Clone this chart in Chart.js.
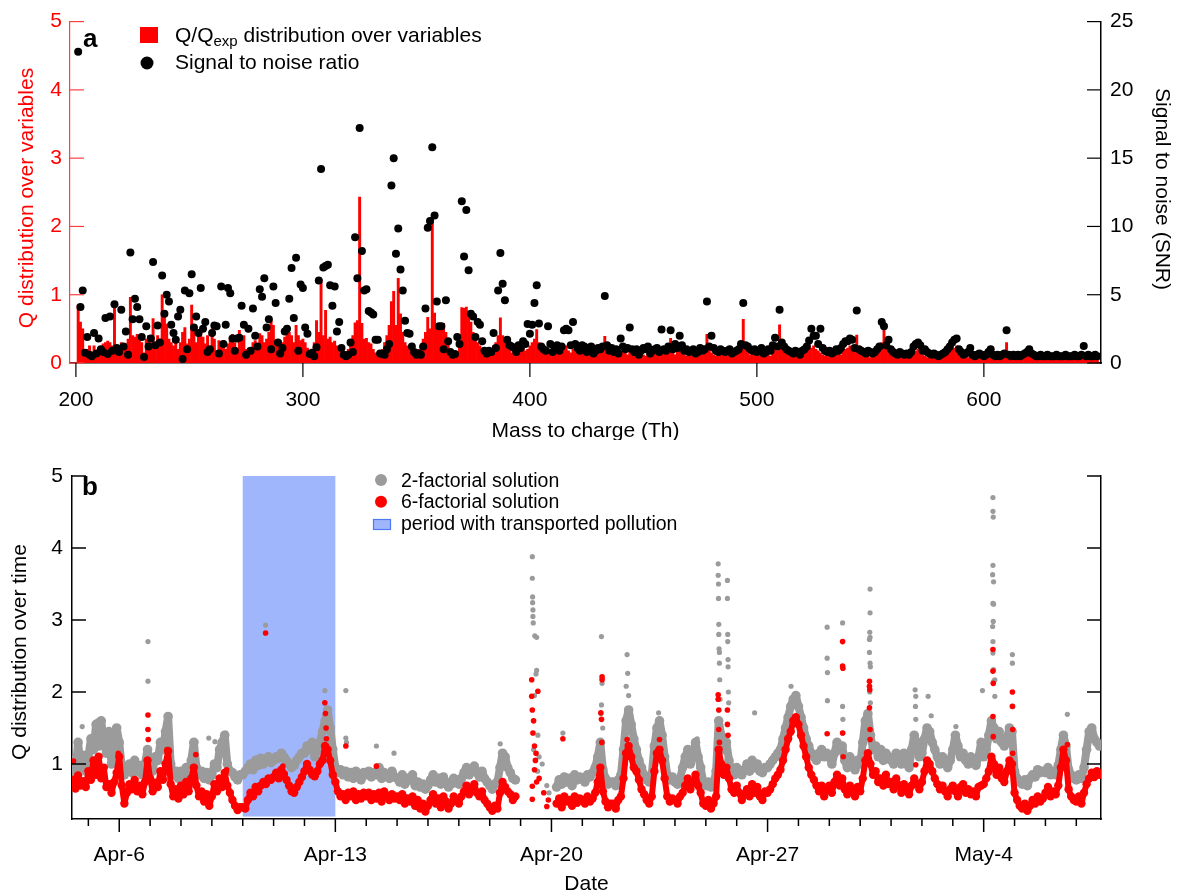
<!DOCTYPE html>
<html>
<head>
<meta charset="utf-8">
<script src="https://cdn.jsdelivr.net/npm/chart.js@4.4.1/dist/chart.umd.min.js"></script>
<style>
body{margin:0;background:#fff;}
#wrap{position:relative;width:1181px;height:896px;}
canvas{position:absolute;left:0;}
#chartA{top:0;}
#chartB{top:440px;}
</style>
</head>
<body>
<div id="wrap">
<canvas id="chartA" width="1181" height="440"></canvas>
<canvas id="chartB" width="1181" height="456"></canvas>
</div>
<script>
const RED='#ff0000';
const RED_AXIS='#ff4040';
const GRAY='#9b9b9b';
const BLUE_FILL='rgb(160,182,252)';
const BLUE_EDGE='rgb(80,120,240)';
const FONT="'Liberation Sans', Arial, Helvetica, sans-serif";

// ---- panel a: one value per nominal mass, starting at m/z 201
const mzStart=201;
const qDist=[
0.85,0.6,0.5,0.15,0.2,0.25,0.12,0.25,0.18,0.22,
0.2,0.28,0.3,0.32,0.3,0.25,0.85,0.15,0.2,0.3,
0.25,0.28,0.35,0.96,0.4,0.38,0.42,0.4,0.3,0.15,
0.35,0.4,0.3,0.65,0.25,0.4,0.35,1.0,0.72,0.57,
0.35,0.3,0.25,0.38,0.2,0.3,0.45,0.52,0.28,0.35,
0.85,0.54,0.3,0.45,0.45,0.38,0.28,0.4,0.2,0.5,
0.35,0.18,0.33,0.3,0.33,0.2,0.28,0.38,0.42,0.3,
0.2,0.48,0.35,0.4,0.2,0.22,0.18,0.3,0.33,0.25,
0.43,0.4,0.3,0.35,0.45,0.62,0.55,0.3,0.25,0.33,
0.3,0.38,0.5,0.45,0.4,0.3,0.55,0.4,0.33,0.35,
0.3,0.22,0.12,0.15,0.3,0.62,0.45,1.22,0.4,0.77,
0.35,0.38,0.3,0.32,0.25,0.2,0.15,0.12,0.15,0.2,
0.3,0.4,0.59,0.62,2.43,0.58,0.35,0.36,0.3,0.28,
0.2,0.15,0.12,0.15,0.2,0.3,0.4,0.55,0.9,1.05,
0.55,1.24,0.72,0.45,0.3,0.25,0.2,0.15,0.12,0.15,
0.2,0.25,0.35,0.45,0.67,0.5,2.12,0.73,0.55,0.58,
0.5,0.58,0.45,0.3,0.2,0.15,0.12,0.15,0.25,0.81,
0.8,0.82,0.75,0.6,0.45,0.35,0.3,0.25,0.2,0.15,
0.12,0.15,0.18,0.25,0.3,0.4,0.66,0.4,0.3,0.25,
0.2,0.15,0.2,0.18,0.15,0.2,0.22,0.18,0.2,0.25,
0.3,0.35,0.49,0.3,0.2,0.15,0.18,0.22,0.15,0.12,
0.15,0.18,0.2,0.22,0.2,0.25,0.18,0.15,0.2,0.22,
0.18,0.15,0.2,0.12,0.15,0.18,0.2,0.15,0.12,0.18,
0.2,0.25,0.39,0.18,0.15,0.12,0.15,0.18,0.12,0.15,
0.18,0.15,0.12,0.2,0.15,0.12,0.1,0.12,0.15,0.12,
0.1,0.15,0.12,0.18,0.15,0.12,0.15,0.2,0.18,0.15,
0.2,0.36,0.15,0.12,0.2,0.18,0.15,0.12,0.1,0.12,
0.15,0.12,0.1,0.12,0.15,0.12,0.18,0.42,0.2,0.15,
0.12,0.1,0.12,0.15,0.12,0.1,0.12,0.15,0.12,0.1,
0.12,0.15,0.2,0.64,0.2,0.15,0.12,0.15,0.12,0.1,
0.12,0.1,0.12,0.15,0.12,0.1,0.15,0.2,0.18,0.56,
0.25,0.18,0.15,0.12,0.1,0.12,0.1,0.12,0.1,0.12,
0.15,0.2,0.28,0.22,0.25,0.2,0.18,0.15,0.12,0.1,
0.12,0.1,0.12,0.1,0.12,0.15,0.12,0.18,0.2,0.22,
0.25,0.22,0.2,0.41,0.15,0.12,0.1,0.12,0.1,0.08,
0.1,0.12,0.15,0.2,0.3,0.48,0.25,0.2,0.12,0.1,
0.08,0.1,0.08,0.1,0.08,0.1,0.08,0.1,0.15,0.18,
0.2,0.15,0.12,0.1,0.08,0.1,0.08,0.1,0.08,0.07,
0.08,0.1,0.12,0.15,0.18,0.2,0.22,0.25,0.15,0.1,
0.08,0.1,0.08,0.1,0.07,0.08,0.07,0.08,0.07,0.06,
0.07,0.08,0.1,0.07,0.06,0.07,0.06,0.07,0.08,0.3,
0.1,0.08,0.07,0.06,0.07,0.06,0.07,0.08,0.1,0.12,
0.08,0.07,0.06,0.06,0.07,0.06,0.06,0.07,0.06,0.06,
0.06,0.07,0.06,0.06,0.06,0.07,0.06,0.06,0.06,0.07,
0.06,0.06,0.07,0.13,0.08,0.07,0.06,0.06,0.07,0.06
];
const snr=[
22.8,4.1,5.3,0.75,1.9,0.6,0.5,2.2,0.7,1.8,
1.0,0.8,3.3,0.65,3.4,0.9,4.3,1.1,0.8,3.9,
1.2,2.3,0.6,8.1,3.2,4.7,4.1,3.2,1.9,0.44,
2.7,1.2,1.8,7.4,1.3,2.75,1.5,6.4,3.6,5.0,
4.5,2.8,2.2,1.7,3.4,3.9,0.3,5.3,1.0,5.1,
6.5,2.6,3.4,2.2,5.5,2.5,3.0,0.8,1.0,2.2,
2.75,2.7,0.7,5.6,1.4,2.8,5.5,5.1,1.8,0.9,
1.8,1.85,4.2,2.8,0.6,2.5,0.9,4.0,2.0,1.2,
5.4,4.85,6.2,2.6,3.2,1.0,5.6,4.4,1.5,0.7,
1.1,2.3,2.5,4.7,6.95,3.3,7.7,0.9,5.75,5.5,
2.6,2.15,0.65,0.75,0.5,1.15,6.05,14.2,7.0,7.1,
7.2,5.7,4.2,5.6,2.3,3.0,1.1,0.6,0.5,0.6,
1.5,0.8,9.2,6.2,17.2,8.2,5.3,5.4,3.8,3.7,
3.55,1.7,1.7,0.7,0.65,0.6,1.0,1.4,13.0,15.0,
8.0,9.85,6.85,5.3,3.1,2.2,2.15,1.2,0.8,0.6,
0.7,0.6,1.2,4.0,9.9,10.4,15.8,10.8,4.5,2.7,
2.7,1.0,4.6,1.6,0.8,0.6,0.65,1.9,1.4,11.85,
7.8,11.2,6.8,3.6,3.4,1.9,3.0,2.8,1.6,0.9,
0.7,0.9,0.8,2.2,1.1,5.3,8.06,5.8,4.6,1.7,
1.3,1.2,1.1,0.8,1.3,1.1,1.6,1.4,2.85,2.15,
2.8,4.4,5.7,2.9,1.2,1.0,0.9,2.7,1.4,0.8,
1.1,1.3,0.9,1.2,2.4,2.5,2.4,1.3,3.0,1.4,
1.1,0.9,1.3,1.2,0.8,1.0,1.2,0.7,0.9,1.1,
1.0,1.2,4.9,1.3,0.9,1.1,0.8,1.0,0.7,1.8,
1.2,1.0,1.1,2.6,1.0,0.8,1.0,0.6,0.9,1.1,
1.0,1.2,0.7,0.9,1.0,1.1,0.8,2.45,1.0,0.9,
1.2,2.4,1.0,1.4,1.1,2.0,1.3,0.9,1.0,0.8,
0.9,1.0,0.7,0.8,1.1,0.9,1.0,4.5,1.2,2.0,
1.1,0.9,0.8,1.0,0.9,0.8,0.9,1.0,0.7,0.8,
0.9,1.0,1.4,4.4,1.3,1.2,1.0,0.9,1.0,0.8,
0.9,1.1,0.7,0.8,1.0,0.9,1.3,1.85,1.2,3.9,
1.5,1.2,1.0,0.9,0.8,0.7,0.9,0.8,0.6,0.9,
1.0,1.2,1.65,2.5,2.0,2.0,1.4,2.5,1.1,0.9,
0.8,0.9,0.7,0.8,1.0,0.9,1.1,1.4,1.6,1.6,
1.8,1.7,1.1,3.85,1.0,0.9,0.8,0.7,0.9,0.8,
0.7,0.8,1.0,1.2,3.0,2.7,1.3,1.7,1.0,0.8,
0.7,0.6,0.8,0.7,0.6,0.7,0.6,0.8,1.2,1.4,
1.5,1.3,0.9,1.0,0.8,0.7,0.6,0.7,0.6,0.5,
0.6,0.7,0.8,1.0,1.2,1.5,1.7,1.8,1.0,0.8,
0.6,0.7,0.8,1.1,0.6,0.5,0.6,0.7,0.6,0.5,
0.6,0.8,1.0,0.6,0.5,0.6,0.5,0.6,0.7,2.4,
0.6,0.5,0.6,0.5,0.6,0.5,0.6,0.7,0.8,1.0,
0.7,0.6,0.5,0.5,0.6,0.5,0.5,0.6,0.5,0.5,
0.5,0.6,0.5,0.5,0.5,0.6,0.5,0.5,0.5,0.6,
0.5,0.5,0.6,1.25,0.5,0.6,0.5,0.5,0.6,0.5
];
const mzTicks=[200,300,400,500,600];
const qTicks=[0,1,2,3,4,5];
const snrTicks=[0,5,10,15,20,25];

// ---- panel b: x in days counted from Mar 31 (so 6 = Apr 6, 34 = May 4)
const tStart=4.5;          // Apr 4, 12:00
const stepDays=2/24;       // 2-hourly values
const sol2=[
1.05,0.88,1.30,0.95,1.12,0.90,
1.10,1.35,1.20,1.55,1.25,1.60,1.30,1.15,1.45,1.00,1.20,1.50,
1.30,0.95,0.85,0.92,1.00,0.88,1.05,0.90,0.98,0.85,1.00,1.20,
1.00,0.90,1.10,1.05,1.30,1.20,1.45,1.66,1.00,0.85,0.90,0.80,
0.90,0.82,0.95,0.88,1.05,1.30,0.95,0.85,0.90,0.80,0.88,0.78,
0.85,1.00,0.95,1.20,1.30,1.40,1.00,0.90,0.88,0.82,0.78,0.85,
0.85,0.90,0.95,1.00,0.92,1.05,0.98,1.08,1.00,1.05,1.10,1.02,
1.05,1.10,1.08,1.15,1.10,1.05,1.00,0.95,0.98,1.05,1.10,1.15,
1.15,1.25,1.20,1.30,1.10,1.20,1.30,1.45,1.60,1.75,1.50,1.20,
0.95,0.88,0.92,0.85,0.90,0.82,0.88,0.80,0.90,0.85,0.78,0.88,
0.85,0.90,0.82,0.88,0.85,0.95,0.80,0.88,0.85,0.80,0.90,0.82,
0.80,0.75,0.85,0.72,0.80,0.78,0.85,0.70,0.75,0.68,0.72,0.65,
0.70,0.78,0.85,0.75,0.80,0.72,0.82,0.75,0.68,0.72,0.80,0.78,
0.72,0.80,0.88,0.95,0.85,0.90,0.97,0.88,0.82,0.90,0.80,0.75,
0.70,0.65,0.72,0.75,0.95,1.15,1.10,0.95,0.88,0.80,0.78,null,
null,null,null,null,null,null,null,null,null,null,null,null,
null,null,0.68,0.78,0.72,0.82,0.75,0.80,0.70,0.85,0.78,0.82,
0.80,0.75,0.85,0.82,0.88,0.95,1.10,1.30,0.92,0.80,0.72,0.75,
0.75,0.70,0.78,0.85,1.20,1.60,1.75,1.55,1.35,1.20,1.05,0.95,
0.85,0.78,0.75,0.85,1.25,1.50,1.60,1.40,1.10,0.85,0.78,0.82,
0.75,0.72,0.80,0.95,1.10,1.20,1.00,1.15,1.30,1.10,0.95,0.75,
0.70,0.75,0.68,0.72,0.90,1.60,1.40,1.20,1.30,1.05,0.90,0.85,
0.95,0.88,0.85,0.92,1.00,0.90,1.05,0.95,1.00,0.90,0.88,0.95,
0.95,1.00,1.05,1.10,1.15,1.20,1.35,1.50,1.65,1.80,1.90,1.95,
1.80,1.65,1.50,1.35,1.25,1.15,1.10,1.05,1.15,1.20,1.10,1.15,
1.10,1.00,1.15,1.30,1.20,1.25,1.05,0.95,1.10,1.00,0.92,1.05,
1.00,1.30,1.60,1.70,1.40,1.20,1.25,1.10,1.20,1.05,1.15,1.10,
1.05,1.00,1.15,1.10,1.00,1.15,1.05,0.95,1.20,1.40,1.30,1.10,
1.15,1.35,1.50,1.45,1.30,1.20,1.10,1.00,1.10,1.05,0.95,1.05,
1.20,1.40,1.25,1.10,1.15,1.05,1.00,1.10,1.05,0.98,1.10,1.30,
1.10,1.20,1.40,1.60,1.50,1.35,1.45,1.30,1.25,1.35,1.50,1.45,
0.90,0.80,0.75,0.72,0.78,0.70,0.80,0.85,0.82,0.92,0.88,0.90,
0.88,0.95,0.85,0.90,0.85,0.98,1.20,1.40,1.25,0.92,0.85,0.80,
0.78,0.85,0.80,0.95,1.20,1.45,1.50,1.35,1.30,1.25
];
const sol6=[
0.78,0.66,0.84,0.70,0.76,0.68,
0.90,0.78,1.05,0.85,1.10,0.80,0.95,0.68,0.72,0.60,0.75,0.88,
1.10,0.70,0.45,0.60,0.72,0.65,0.78,0.62,0.70,0.58,0.75,1.05,
0.80,0.62,0.74,0.68,0.90,0.78,1.00,1.18,0.72,0.55,0.65,0.52,
0.70,0.58,0.75,0.62,0.80,0.95,0.70,0.55,0.62,0.48,0.58,0.42,
0.55,0.72,0.62,0.80,0.68,0.88,0.70,0.60,0.50,0.42,0.36,0.40,
0.40,0.38,0.50,0.60,0.55,0.68,0.62,0.70,0.75,0.72,0.80,0.78,
0.82,0.88,0.80,0.92,0.86,0.78,0.70,0.62,0.60,0.68,0.75,0.82,
0.90,1.00,0.92,0.85,0.83,0.90,1.00,1.05,1.25,1.20,1.05,0.85,
0.75,0.62,0.55,0.58,0.50,0.60,0.55,0.62,0.50,0.58,0.52,0.60,
0.55,0.60,0.50,0.58,0.52,0.60,0.48,0.62,0.55,0.50,0.58,0.52,
0.55,0.50,0.58,0.45,0.52,0.48,0.55,0.42,0.50,0.38,0.45,0.34,
0.42,0.50,0.58,0.45,0.52,0.40,0.55,0.48,0.38,0.45,0.55,0.50,
0.45,0.55,0.62,0.70,0.58,0.66,0.72,0.60,0.55,0.62,0.50,0.45,
0.40,0.35,0.42,0.38,0.60,0.75,0.68,0.62,0.58,0.50,0.55,null,
null,null,null,null,null,null,null,null,null,null,null,null,
null,null,0.45,0.52,0.40,0.55,0.48,0.50,0.42,0.55,0.46,0.52,
0.50,0.45,0.55,0.48,0.52,0.60,0.75,0.95,0.62,0.48,0.40,0.45,
0.45,0.38,0.50,0.55,0.80,1.15,1.25,1.10,0.95,0.90,0.78,0.65,
0.58,0.50,0.45,0.55,0.90,1.15,1.20,1.05,0.80,0.55,0.48,0.52,
0.50,0.45,0.55,0.60,0.70,0.80,0.65,0.75,0.85,0.70,0.60,0.45,
0.42,0.50,0.38,0.45,0.55,1.20,1.00,0.85,0.95,0.80,0.65,0.60,
0.70,0.60,0.50,0.58,0.65,0.55,0.72,0.60,0.68,0.55,0.50,0.62,
0.60,0.65,0.72,0.80,0.85,0.92,1.05,1.20,1.35,1.45,1.60,1.65,
1.55,1.40,1.25,1.10,0.95,0.85,0.78,0.70,0.62,0.70,0.55,0.65,
0.70,0.60,0.75,0.85,0.70,0.80,0.65,0.58,0.70,0.62,0.55,0.68,
0.62,0.80,1.05,1.15,1.00,0.85,0.90,0.75,0.80,0.70,0.85,0.72,
0.75,0.65,0.80,0.70,0.60,0.72,0.65,0.58,0.70,0.80,0.72,0.65,
0.75,0.90,1.05,1.00,0.90,0.80,0.72,0.65,0.70,0.62,0.55,0.65,
0.70,0.62,0.55,0.68,0.72,0.60,0.65,0.58,0.62,0.55,0.68,0.70,
0.72,0.80,0.90,1.10,1.00,0.85,0.95,0.80,0.75,0.90,1.05,1.00,
0.60,0.50,0.42,0.38,0.45,0.35,0.42,0.50,0.45,0.55,0.48,0.52,
0.60,0.68,0.55,0.62,0.58,0.70,0.95,1.20,1.05,0.65,0.55,0.50,
0.48,0.55,0.45,0.60,0.72,0.80,0.88,0.82,0.90,0.85
];
// short events that the 2-hourly values do not hold: [day, Q]
const sol2Peaks=[
[4.8,1.52],[5.3,1.6],[6.93,2.7],[6.93,2.15],[7.55,1.66],[8.48,1.31],[8.9,1.36],[9.1,1.31],[9.45,1.43],
[10.74,2.93],[12.66,2.02],[12.7,1.75],[13.34,2.02],[13.34,1.36],[13.36,1.3],[14.33,1.25],[14.9,1.15],[18.34,1.28],
[19.38,3.88],[19.38,3.58],[19.39,3.32],[19.39,3.24],[19.4,3.14],[19.4,3.05],[19.41,2.96],[19.46,2.78],[19.52,2.76],
[19.52,2.3],[19.5,2.25],[19.45,1.95],[19.42,1.6],[19.56,1.4],[19.6,1.1],[19.7,1.0],[19.42,1.2],[19.55,0.9],[19.85,0.7],[19.92,0.6],
[20.37,1.43],[21.62,2.77],[21.64,2.12],[21.62,1.82],[21.6,1.7],[21.66,1.5],
[22.45,2.52],[22.47,2.26],[22.42,2.08],[22.5,1.95],[23.47,1.71],[24.72,1.35],
[25.4,3.78],[25.4,3.62],[25.41,3.5],[25.41,3.3],[25.42,2.94],[25.42,2.8],[25.43,2.6],[25.44,2.55],[25.44,2.4],[25.45,2.17],[25.46,1.9],
[25.7,3.55],[25.7,3.3],[25.71,2.8],[25.71,2.7],[25.72,2.45],[25.72,2.35],[25.73,2.0],[25.74,1.85],
[26.58,1.71],[27.76,2.08],
[28.93,2.9],[28.93,2.47],[28.94,2.27],[28.94,1.88],
[29.43,2.96],[29.43,1.8],[29.44,1.62],[29.44,1.43],
[30.32,3.43],[30.32,3.1],[30.31,2.83],[30.32,2.76],[30.3,2.73],[30.3,2.55],[30.32,2.4],[30.33,2.35],[30.31,2.0],[30.33,1.85],
[31.78,2.03],[31.8,1.94],[31.79,1.8],[31.8,1.62],[32.2,1.94],[32.3,1.67],[33.1,1.52],[33.96,2.02],
[34.3,4.7],[34.3,4.51],[34.31,4.43],[34.3,3.76],[34.29,3.63],[34.32,3.53],[34.3,3.23],[34.32,3.22],[34.31,2.98],[34.29,2.91],
[34.3,2.7],[34.3,2.54],[34.32,2.31],[34.33,2.15],[34.36,2.17],[34.36,1.94],
[34.93,2.52],[34.93,2.4],[34.94,1.8],[36.71,1.69]
];
const sol6Peaks=[
[4.52,1.04],[5.97,1.15],[6.93,1.68],[6.93,1.48],[6.94,1.34],[7.55,1.2],[8.48,1.13],[9.48,0.92],[10.74,2.82],[11.3,0.97],
[12.66,1.85],[12.68,1.7],[12.7,1.5],[12.71,1.35],[13.34,1.25],[14.33,0.97],
[19.36,2.17],[19.36,1.94],[19.38,1.75],[19.4,1.43],[19.45,1.25],[19.5,1.15],[19.45,0.92],[19.38,0.69],[19.38,0.51],
[19.56,2.01],[19.48,1.05],[19.6,0.8],[19.75,0.6],[19.85,0.41],[19.9,0.5],[19.42,1.6],[19.52,0.75],
[20.37,1.35],[21.64,2.21],[21.64,2.17],[21.6,1.71],[21.62,1.62],[21.63,1.3],
[22.45,1.34],[23.5,1.34],
[25.4,1.96],[25.4,1.9],[25.42,1.75],[25.42,1.48],[25.44,1.3],[25.7,1.75],[25.7,1.55],[25.72,1.4],
[28.93,1.42],[29.43,2.7],[29.43,2.36],[29.44,2.33],[29.43,1.43],[29.45,1.1],
[30.3,2.15],[30.3,2.08],[30.31,2.03],[30.3,1.78],[30.32,1.48],[30.32,1.34],[31.8,0.99],
[34.3,2.59],[34.3,2.29],[34.31,2.12],[34.3,1.66],[34.31,1.38],[34.3,1.06],
[34.93,2.0],[34.93,1.8],[34.94,1.48],[34.94,1.15],[36.71,1.27]
];
const weekTicks=[6,13,20,27,34];
const weekLabels=['Apr-6','Apr-13','Apr-20','Apr-27','May-4'];
const qTimeTicks=[1,2,3,4,5];
const transportSpan=[10,13];   // Apr 10 – Apr 13
const transportQ=[0.27,5];

Chart.defaults.font.family=FONT;
Chart.defaults.font.size=21;
Chart.defaults.color='#000';

function seg(ctx,x1,y1,x2,y2){ctx.beginPath();ctx.moveTo(x1,y1);ctx.lineTo(x2,y2);ctx.stroke();}
function vText(ctx,txt,x,y,angle,color){
  ctx.save();ctx.translate(x,y);ctx.rotate(angle);
  ctx.fillStyle=color;ctx.textAlign='center';ctx.textBaseline='alphabetic';
  ctx.fillText(txt,0,0);ctx.restore();
}
function dot(ctx,x,y,r,c){ctx.fillStyle=c;ctx.beginPath();ctx.arc(x,y,r,0,Math.PI*2);ctx.fill();}

const panelA={
  id:'panelA',
  afterDraw(chart){
    const {ctx,chartArea:a,scales:{x,y,y2}}=chart;
    ctx.save();
    ctx.lineWidth=1.2;
    ctx.strokeStyle=RED_AXIS;
    qTicks.forEach(v=>{const p=y.getPixelForValue(v);seg(ctx,a.left,p,a.left+14,p);});
    ctx.strokeStyle='#000';
    snrTicks.forEach(v=>{const p=y2.getPixelForValue(v);seg(ctx,a.right-14,p,a.right,p);});
    mzTicks.forEach(v=>{const p=x.getPixelForValue(v);seg(ctx,p,a.bottom,p,a.bottom+14);});
    // legend
    ctx.fillStyle=RED;ctx.fillRect(140,27,18,16);
    ctx.fillStyle='#000';ctx.textAlign='left';ctx.textBaseline='alphabetic';
    ctx.font='21px '+FONT;
    ctx.fillText('Q/Q',175,41.5);
    let w=ctx.measureText('Q/Q').width;
    ctx.font='15px '+FONT;
    ctx.fillText('exp',175+w,46);
    w+=ctx.measureText('exp').width;
    ctx.font='21px '+FONT;
    ctx.fillText(' distribution over variables',175+w,41.5);
    dot(ctx,147,63,6.5,'#000');
    ctx.fillStyle='#000';
    ctx.fillText('Signal to noise ratio',175,69);
    ctx.font='bold 26px '+FONT;
    ctx.fillText('a',83,47);
    // axis titles
    ctx.font='21px '+FONT;
    vText(ctx,'Q distribution over variables',33,198,-Math.PI/2,RED);
    vText(ctx,'Signal to noise (SNR)',1156,189,Math.PI/2,'#000');
    ctx.fillStyle='#000';ctx.textAlign='center';ctx.textBaseline='middle';
    ctx.fillText('Mass to charge (Th)',(a.left+a.right)/2,431);
    ctx.restore();
  }
};

const panelB={
  id:'panelB',
  beforeDatasetsDraw(chart){
    const {ctx,scales:{x,y}}=chart;
    const l=x.getPixelForValue(transportSpan[0]),r=x.getPixelForValue(transportSpan[1]);
    const t=y.getPixelForValue(transportQ[1]),b=y.getPixelForValue(transportQ[0]);
    ctx.save();ctx.fillStyle=BLUE_FILL;ctx.fillRect(l,t,r-l,b-t);ctx.restore();
  },
  afterDraw(chart){
    const {ctx,chartArea:a,scales:{x,y}}=chart;
    ctx.save();
    ctx.lineWidth=1.5;ctx.strokeStyle='#000';
    qTimeTicks.forEach(v=>{const p=y.getPixelForValue(v);seg(ctx,a.left,p,a.left+14,p);seg(ctx,a.right-14,p,a.right,p);});
    x.ticks.forEach(t=>{const p=x.getPixelForValue(t.value);const major=weekTicks.includes(t.value);seg(ctx,p,a.bottom,p,a.bottom+(major?13:7));});
    // legend
    dot(ctx,381,40,6,GRAY);
    dot(ctx,381,61.7,6,RED);
    ctx.fillStyle=BLUE_FILL;ctx.fillRect(373,79,18,11);
    ctx.lineWidth=1.2;ctx.strokeStyle=BLUE_EDGE;ctx.strokeRect(373.5,79.5,17,10);
    ctx.fillStyle='#000';ctx.textAlign='left';ctx.textBaseline='alphabetic';
    ctx.font='19.5px '+FONT;
    ctx.fillText('2-factorial solution',401,46.5);
    ctx.fillText('6-factorial solution',401,68);
    ctx.fillText('period with transported pollution',401,89.5);
    ctx.font='bold 26px '+FONT;
    ctx.fillText('b',82,55);
    ctx.font='21px '+FONT;
    vText(ctx,'Q distribution over time',26,212,-Math.PI/2,'#000');
    ctx.fillStyle='#000';ctx.textAlign='center';ctx.textBaseline='middle';
    ctx.fillText('Date',(a.left+a.right)/2,444);
    ctx.restore();
  }
};

new Chart(document.getElementById('chartA'),{
  type:'bar',
  data:{datasets:[
    {type:'scatter',label:'Signal to noise ratio',yAxisID:'y2',order:0,
     data:snr.map((v,i)=>({x:mzStart+i,y:v})),
     backgroundColor:'#000',pointRadius:4,pointBorderWidth:0},
    {type:'bar',label:'Q/Qexp distribution over variables',yAxisID:'y',order:1,
     data:qDist.map((v,i)=>({x:mzStart+i,y:v})),
     backgroundColor:RED,borderWidth:0,categoryPercentage:1,barPercentage:1}
  ]},
  options:{
    responsive:false,animation:false,devicePixelRatio:1,
    layout:{padding:{top:20,left:0,right:0,bottom:0}},
    plugins:{legend:{display:false},tooltip:{enabled:false}},
    scales:{
      x:{type:'linear',min:197.4,max:651.6,offset:false,
         grid:{display:false,drawTicks:false},border:{display:true,color:'#000',width:1.5},
         ticks:{padding:25,maxRotation:0,autoSkip:false},
         afterBuildTicks:s=>{s.ticks=mzTicks.map(v=>({value:v}));},
         afterFit:s=>{s.height=77;}},
      y:{position:'left',min:0,max:5,
         grid:{display:false,drawTicks:false},border:{display:true,color:RED_AXIS,width:1.2},
         ticks:{color:RED,padding:8},
         afterBuildTicks:s=>{s.ticks=qTicks.map(v=>({value:v}));},
         afterFit:s=>{s.width=70;}},
      y2:{position:'right',min:0,max:25,
         grid:{display:false,drawTicks:false},border:{display:true,color:'#000',width:1.5},
         ticks:{color:'#000',padding:9},
         afterBuildTicks:s=>{s.ticks=snrTicks.map(v=>({value:v}));},
         afterFit:s=>{s.width=80;}}
    }
  },
  plugins:[panelA]
});

const toPts=arr=>arr.map((v,i)=>({x:tStart+i*stepDays,y:v}));
const toXY=arr=>arr.map(p=>({x:p[0],y:p[1]}));

new Chart(document.getElementById('chartB'),{
  type:'scatter',
  data:{datasets:[
    {label:'6-factorial solution',order:0,data:toPts(sol6),showLine:true,spanGaps:false,
     borderColor:RED,borderWidth:6,borderJoinStyle:'round',borderCapStyle:'round',
     backgroundColor:RED,pointRadius:4.2,pointBorderWidth:0},
    {label:'6-factorial peaks',order:0,data:toXY(sol6Peaks),
     backgroundColor:RED,pointRadius:2.8,pointBorderWidth:0},
    {label:'2-factorial solution',order:1,data:toPts(sol2),showLine:true,spanGaps:false,
     borderColor:GRAY,borderWidth:8,borderJoinStyle:'round',borderCapStyle:'round',
     backgroundColor:GRAY,pointRadius:4.8,pointBorderWidth:0},
    {label:'2-factorial peaks',order:1,data:toXY(sol2Peaks),
     backgroundColor:GRAY,pointRadius:2.6,pointBorderWidth:0}
  ]},
  options:{
    responsive:false,animation:false,devicePixelRatio:1,
    layout:{padding:{top:36,left:0,right:0,bottom:0}},
    plugins:{legend:{display:false},tooltip:{enabled:false}},
    scales:{
      x:{type:'linear',min:4.47,max:37.8,
         grid:{display:false,drawTicks:false},border:{display:true,color:'#000',width:1.5},
         ticks:{padding:24,maxRotation:0,autoSkip:false,
                callback:v=>{const i=weekTicks.indexOf(v);return i>=0?weekLabels[i]:'';}},
         afterBuildTicks:s=>{const t=[];for(let d=Math.ceil(s.min);d<=Math.floor(s.max);d++)t.push({value:d});s.ticks=t;},
         afterFit:s=>{s.height=77;}},
      y:{position:'left',min:0.236,max:5,
         grid:{display:false,drawTicks:false},border:{display:true,color:'#000',width:1.5},
         ticks:{padding:9},
         afterBuildTicks:s=>{s.ticks=qTimeTicks.map(v=>({value:v}));},
         afterFit:s=>{s.width=72;}},
      y2:{position:'right',min:0.236,max:5,
         grid:{display:false,drawTicks:false},border:{display:true,color:'#000',width:1.5},
         ticks:{display:false},
         afterBuildTicks:s=>{s.ticks=qTimeTicks.map(v=>({value:v}));},
         afterFit:s=>{s.width=80;}}
    }
  },
  plugins:[panelB]
});
</script>
</body>
</html>
